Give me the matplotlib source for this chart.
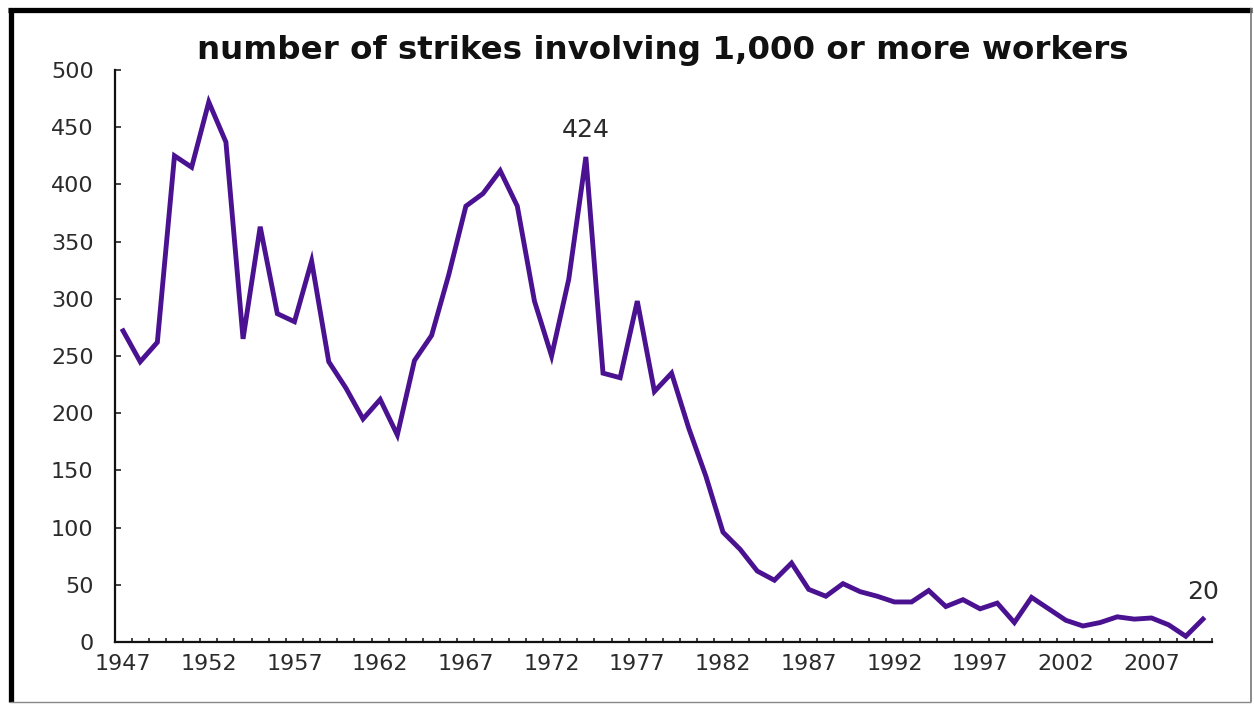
import matplotlib
matplotlib.use('Agg')
import matplotlib.pyplot as plt
from matplotlib.lines import Line2D

plt.rcParams['font.family'] = ['DejaVu Sans']

years = list(range(1947, 2011))
strikes = [272, 245, 262, 425, 415, 472, 437, 265, 363, 287,
           280, 333, 245, 222, 195, 212, 181, 246, 268, 321,
           381, 392, 412, 381, 298, 250, 317, 424, 235, 231,
           298, 219, 235, 187, 145, 96, 81, 62, 54, 69,
           46, 40, 51, 44, 40, 35, 35, 45, 31, 37,
           29, 34, 17, 39, 29, 19, 14, 17, 22, 20,
           21, 15, 5, 20]
label_years = list(range(1947, 2008, 5))
title = 'number of strikes involving 1,000 or more workers'

line_color = '#4a1191'
text_color = '#2b2b2b'

fig = plt.figure(figsize=(12.54, 7.04), dpi=100)
ax = fig.add_axes([114.5 / 1254, 62 / 704, (1211.5 - 114.5) / 1254, (642 - 70) / 704])

ax.plot(years, strikes, color=line_color, linewidth=3.5, solid_joinstyle='miter')

ax.set_xlim(years[0] - 0.5, years[-1] + 0.5)
ax.set_ylim(0, 500)
ax.set_yticks(range(0, 501, 50))
ax.set_xticks(label_years)
ax.set_xticks([y - 0.5 for y in years] + [years[-1] + 0.5], minor=True)

for s in ['top', 'right']:
    ax.spines[s].set_visible(False)
for s in ['left', 'bottom']:
    ax.spines[s].set_linewidth(1.6)
    ax.spines[s].set_color('#111111')

ax.tick_params(axis='x', which='major', length=0, pad=9, labelsize=16, labelcolor=text_color)
ax.tick_params(axis='x', which='minor', direction='in', length=3, width=1.2, color='#222222')
ax.tick_params(axis='y', direction='in', length=4, width=1.2, pad=15, labelsize=16,
               labelcolor=text_color, color='#222222')

# value labels
i_peak = years.index(1974)
ax.annotate(str(strikes[i_peak]), (years[i_peak], strikes[i_peak]), xytext=(0, 11),
            textcoords='offset points', ha='center', va='bottom', fontsize=18, color=text_color)
ax.annotate('20', (years[-1], strikes[-1]), xytext=(0, 11),
            textcoords='offset points', ha='center', va='bottom', fontsize=18, color=text_color)

ax.set_title(title, fontsize=23.4, fontweight='bold', color='#111111', pad=8)

# picture frame
fig.add_artist(Line2D([8 / 1254, 1252 / 1254], [1 - 9.5 / 704] * 2, color='black',
                      linewidth=3.8, solid_capstyle='butt'))
fig.add_artist(Line2D([10.5 / 1254] * 2, [2 / 704, 1 - 8 / 704], color='black',
                      linewidth=3.8, solid_capstyle='butt'))
fig.add_artist(Line2D([1251 / 1254] * 2, [2 / 704, 1 - 8 / 704], color='#777777',
                      linewidth=1.2, solid_capstyle='butt'))
fig.add_artist(Line2D([10 / 1254, 1251 / 1254], [2 / 704] * 2, color='#888888',
                      linewidth=1.0, solid_capstyle='butt'))

fig.savefig('out.png', dpi=100)
